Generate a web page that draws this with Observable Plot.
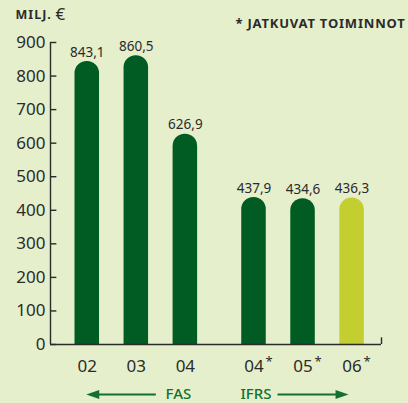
<!DOCTYPE html>
<html>
<head>
<meta charset="utf-8">
<script src="https://cdn.jsdelivr.net/npm/d3@7"></script>
<script src="https://cdn.jsdelivr.net/npm/@observablehq/plot@0.6"></script>
<style>
  html, body { margin: 0; padding: 0; background: #e5efcc; }
  #chart { width: 408px; height: 403px; }
</style>
</head>
<body>
<div id="chart"></div>
<script>
// ---- data ----
const categories = ["02", "03", "04", "04", "05", "06"];
const standards  = ["FAS", "FAS", "FAS", "IFRS", "IFRS", "IFRS"];
const values     = [843.1, 860.5, 626.9, 437.9, 434.6, 436.3];
const yTicks     = [0, 100, 200, 300, 400, 500, 600, 700, 800, 900];
const unitLabel  = "MILJ.";
const noteLabel  = "* JATKUVAT TOIMINNOT";

// ---- layout helpers ----
const groupGap = 0.4;
const dark = "#005c22", lime = "#c3cf30", ink = "#2b2b2b", green = "#14702f";
const bars = categories.map((c, i) => ({
  cat: c,
  std: standards[i],
  value: values[i],
  label: values[i].toFixed(1).replace(".", ","),
  pos: i + (standards[i] === "IFRS" ? groupGap : 0),
  latest: i === categories.length - 1
}));
const positions = bars.map(d => d.pos);
const fas = bars.filter(d => d.std === "FAS");
const ifrs = bars.filter(d => d.std === "IFRS");
const xDomain = [-0.75, 6.0];
const half = 0.25;

const arrowHead = {
  draw(ctx) {
    ctx.moveTo(7, 0);
    ctx.lineTo(-6, -4.5);
    ctx.lineTo(-6, 4.5);
    ctx.closePath();
  }
};

const chart = Plot.plot({
  width: 408,
  height: 403,
  marginTop: 42,
  marginBottom: 59,
  marginLeft: 50,
  marginRight: 27,
  x: { domain: xDomain, axis: null },
  y: { domain: [0, 900], axis: null },
  style: { background: "#e5efcc", fontFamily: "'Noto Sans', sans-serif", color: ink },
  marks: [
    Plot.rect(bars, {
      x1: d => d.pos - half, x2: d => d.pos + half, y1: 0, y2: "value",
      fill: d => d.latest ? lime : dark, ry2: 12
    }),
    Plot.text(bars, { x: "pos", y: "value", text: "label", dy: -5, lineAnchor: "bottom", fontSize: 13.5, fill: ink }),
    // axes
    Plot.axisY(yTicks, { tickSize: 0, tickPadding: 5, fontSize: 17, label: null }),
    Plot.ruleY(yTicks, { x1: xDomain[0], x2: xDomain[0] + 0.13, stroke: ink, strokeWidth: 1.4 }),
    Plot.ruleX([xDomain[0]], { y1: 0, y2: 900, stroke: ink, strokeWidth: 1.4 }),
    Plot.ruleY([0], { stroke: ink, strokeWidth: 1.6 }),
    Plot.ruleX([xDomain[1]], { y1: 0, y2: 20, stroke: ink, strokeWidth: 1.4 }),
    Plot.axisX(positions, {
      tickSize: 0, tickPadding: 15, fontSize: 17, label: null,
      tickFormat: d => bars[positions.indexOf(d)].cat
    }),
    Plot.text(ifrs, { x: "pos", y: 0, text: () => "*", dx: 15, dy: 17, lineAnchor: "middle", fontSize: 13, fill: ink }),
    // FAS / IFRS arrows
    Plot.ruleY([0], { x1: fas[0].pos, x2: fas[fas.length - 1].pos, insetLeft: 3, insetRight: 29, dy: 50, stroke: green, strokeWidth: 2 }),
    Plot.dot([fas[0]], { x: "pos", y: 0, dx: 6, dy: 50, symbol: arrowHead, rotate: 180, fill: green, stroke: "none" }),
    Plot.text([fas[fas.length - 1]], { x: "pos", y: 0, text: d => d.std, dx: -7, dy: 49.5, lineAnchor: "middle", fontSize: 15, fontWeight: 500, fill: green }),
    Plot.ruleY([0], { x1: ifrs[0].pos, x2: ifrs[ifrs.length - 1].pos, insetLeft: 24, insetRight: 8, dy: 50, stroke: green, strokeWidth: 2 }),
    Plot.dot([ifrs[ifrs.length - 1]], { x: "pos", y: 0, dx: -10.5, dy: 50, symbol: arrowHead, rotate: 0, fill: green, stroke: "none" }),
    Plot.text([ifrs[0]], { x: "pos", y: 0, text: d => d.std, dx: 2, dy: 49.5, lineAnchor: "middle", fontSize: 15, fontWeight: 500, fill: green }),
    // header texts
    Plot.text([unitLabel], { text: d => d, frameAnchor: "top-left", dx: -35, dy: -28, textAnchor: "start", lineAnchor: "middle", fontSize: 12.5, fontWeight: "bold", fill: ink }),
    Plot.text(["€"], { text: d => d, frameAnchor: "top-left", dx: 5, dy: -28, textAnchor: "start", lineAnchor: "middle", fontSize: 17, fill: ink }),
    Plot.text([noteLabel], { text: d => d, frameAnchor: "top-right", dx: 24, dy: -19, textAnchor: "end", lineAnchor: "middle", fontSize: 13, fontWeight: "bold", fill: ink })
  ]
});
document.getElementById("chart").appendChild(chart);
d3.select(chart).selectAll("text").filter(function () { return this.textContent === unitLabel; }).attr("letter-spacing", 1);
d3.select(chart).selectAll("text").filter(function () { return this.textContent === noteLabel; }).attr("letter-spacing", 0.8);
</script>
</body>
</html>
